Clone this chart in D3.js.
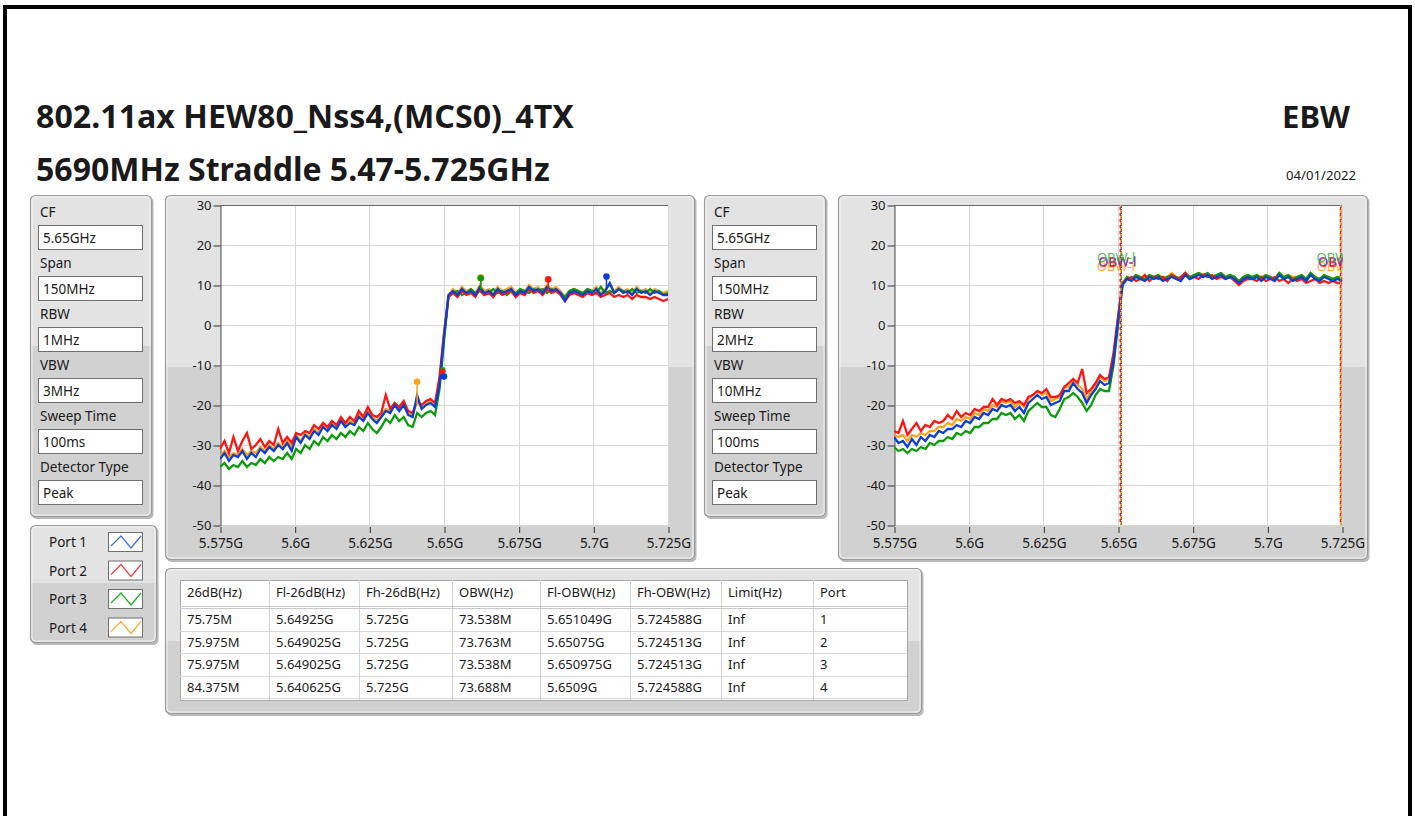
<!DOCTYPE html>
<html><head><meta charset="utf-8">
<script src="https://cdn.jsdelivr.net/npm/d3@7"></script>
<style>
html,body{margin:0;padding:0;background:#fff;}
svg{display:block;}
text{font-family:"Noto Sans",sans-serif;fill:#1a1a1a;}
</style></head><body>
<svg id="c" width="1415" height="816"></svg>
<script>
// ---------------- DATA ----------------
const titleLine1 = "802.11ax HEW80_Nss4,(MCS0)_4TX";
const titleLine2 = "5690MHz Straddle 5.47-5.725GHz";
const testName = "EBW";
const testDate = "04/01/2022";

const settingLabels = ["CF", "Span", "RBW", "VBW", "Sweep Time", "Detector Type"];
const settingsLeft  = ["5.65GHz", "150MHz", "1MHz", "3MHz", "100ms", "Peak"];
const settingsRight = ["5.65GHz", "150MHz", "2MHz", "10MHz", "100ms", "Peak"];

const ports = ["Port 1", "Port 2", "Port 3", "Port 4"];
const portColors = ["#0a3ed4", "#ff1414", "#0a9a0a", "#ffa31a"];
const legendColors = ["#3d6fe6", "#ff3c3c", "#22a822", "#ffaa33"];

const xTickValues = [5.575, 5.6, 5.625, 5.65, 5.675, 5.7, 5.725];
const xTickLabels = ["5.575G", "5.6G", "5.625G", "5.65G", "5.675G", "5.7G", "5.725G"];
const yTickValues = [-50, -40, -30, -20, -10, 0, 10, 20, 30];

// sweep grid: start frequency (GHz) and step (GHz) of the trace points
const sweepStartGHz = 5.575;
const sweepStepGHz = 0.0015;

// Chart 1 (RBW 1MHz) traces, dBm, per port
const c1Port1 = [
 -33.5,-32,-34,-32.5,-33,-31.5,-33.5,-32,-33,-31,
 -32,-30.5,-31.5,-30,-31,-29.5,-31.5,-28,-29.5,-27.5,
 -28.5,-26.5,-27.5,-25.5,-26.5,-25,-26,-24,-25.5,-24.5,
 -25,-23,-24,-22,-23.5,-24.5,-23,-21.5,-22,-20,
 -21.5,-20,-22.5,-23,-17.5,-21,-20,-19.5,-20.5,-15,
 -3,7.5,8.5,7.5,9,8,8.5,7.5,9.5,8,
 8.5,7.5,9,8,8.5,9,7.5,8.5,8,9.5,
 8.5,9,8,9.5,8.5,9,8,6,8,8.5,
 8,7.5,8.5,8,9,7.5,8.5,10.5,8,9,
 8,8.5,7.5,9,8,8.5,7.5,8.5,8,7.5,
 7.5];
const c1Port2 = [
 -31,-29,-32,-28,-31.5,-29,-27,-31,-30,-28.5,
 -30.5,-29,-30,-26,-29.5,-28,-29.5,-27,-27.5,-26.5,
 -27,-25,-26,-24.5,-25.5,-24,-25,-23,-24.5,-23,
 -24,-21.5,-23,-20.5,-22.5,-23,-22,-17.5,-21,-19.5,
 -20.5,-19,-21.5,-22,-19,-20,-19,-18.5,-19.5,-13,
 -2,7,8,7,8.5,7.5,8,7,9,7.5,
 8,7,8.5,7.5,8,8.5,7,8,7.5,9,
 8,8.5,7.5,9,8,8.5,7.5,6,7.5,8,
 7.5,7,8,7.5,8,7,7.5,8,7,7.5,
 7,7.5,6.5,7.5,7,7,6.5,7,6.5,6,
 6.5];
const c1Port3 = [
 -35.5,-34.5,-36,-35,-35.5,-34,-35.5,-34.5,-35,-33.5,
 -34.5,-33,-34,-33,-33.5,-32,-33.5,-31,-32,-30,
 -31,-29,-30,-28,-29,-27.5,-28.5,-27,-28,-26.5,
 -27.5,-25.5,-26.5,-24.5,-26,-27,-25.5,-23.5,-24.5,-22.5,
 -24,-23,-25,-25.5,-22,-23,-22,-21.5,-22.5,-16,
 -4,7,8,8.5,7.5,8,9,8,8.5,7.5,
 8,9,8,8.5,7.5,8.5,8,9,8.5,8,
 9,8.5,9,8,9,8.5,8,7,8.5,9,
 8.5,8,9,8.5,8,9.5,8,8.5,8,9,
 8.5,8,9,8,8.5,8,9,8,8.5,7.5,
 8];
const c1Port4 = [
 -33,-31.5,-33,-32,-32.5,-31,-32.5,-31.5,-32,-30.5,
 -31.5,-30,-31,-29.5,-30.5,-29,-30.5,-27.5,-29,-27,
 -28,-26,-27,-25,-26,-24.5,-25.5,-23.5,-25,-24,
 -24.5,-22.5,-23.5,-21.5,-23,-24,-22.5,-21,-21.5,-19.5,
 -21,-19.5,-22,-22.5,-19,-20.5,-19.5,-19,-20,-14,
 -2.5,7.5,9,8,9.5,8.5,9,8,10,8.5,
 9,8,9.5,8.5,9,9.5,8,9,8.5,10,
 9,9.5,8.5,10,9,9.5,8.5,7,8.5,9,
 8.5,8,9,8.5,9.5,8,9,10,8.5,9.5,
 8.5,9,8,9.5,8.5,9,8,9,8.5,8,
 8.5];

// Chart 2 (RBW 2MHz) traces
const c2Port1 = [
 -28,-29.5,-29,-30.5,-28.5,-30,-28,-29,-27.5,-28,
 -26.5,-27,-26,-26,-25,-25.5,-24,-24.5,-23,-23.5,
 -22,-22.5,-21,-21.5,-20,-20.5,-20,-21.5,-20.5,-22,
 -19.5,-18.5,-17.5,-18.5,-18,-20,-19.5,-19,-16.5,-16.5,
 -14.5,-16,-17,-19.5,-17.5,-16,-14,-15,-14.5,-9,
 1,10,11.5,11,12,11.5,11,12,11.5,12,
 11,11.5,12,11.5,11,12.5,11.5,12,12.5,12,
 12.5,11.5,12,12.5,11.5,12,11.5,10.5,11.5,12,
 11.5,12,11,12,11.5,11,12.5,11.5,12,11,
 11.5,12,11,12.5,11.5,11,12,11.5,11,11.5,
 11];
const c2Port2 = [
 -26.5,-27,-24,-27.5,-26,-24.5,-26.5,-25,-25.5,-24,
 -24.5,-24,-22.5,-23.5,-21.5,-23,-22,-22.5,-21,-21.5,
 -20.5,-20.5,-18.5,-20,-18.5,-19,-18.5,-19.5,-19,-20,
 -18,-17.5,-16.5,-17,-16,-18,-18,-17.5,-15.5,-14.5,
 -13.5,-14.5,-11,-17,-16,-14.5,-12.5,-13.5,-13,-7,
 2,10.5,11.5,12,11,11.5,12.5,11,12,11.5,
 12,11,12.5,11.5,12,13,11.5,12,11.5,12.5,
 12,12.5,11.5,12,11.5,12,11,10,11,11.5,
 11.5,11,12,11,11.5,12,11,11.5,10.5,11.5,
 11,11.5,10.5,11,11.5,10.5,11,10.5,11,10.5,
 10.5];
const c2Port3 = [
 -30.5,-31.5,-31,-32,-31,-31.5,-30.5,-31,-29.5,-30,
 -29,-29,-28,-28.5,-27,-27.5,-26.5,-27,-25.5,-25.5,
 -24.5,-24.5,-23.5,-23.5,-22,-22.5,-22,-23.5,-22.5,-24,
 -21.5,-20.5,-19.5,-20.5,-20.5,-22.5,-23,-21,-18.5,-18,
 -17,-18,-19.5,-21.5,-20,-17.5,-16,-16.5,-16.5,-10,
 0,10,12,11.5,12.5,12,11.5,12.5,12,12.5,
 11.5,12,12.5,12,11.5,13,12,12.5,13,12.5,
 13,12,12.5,13,12,12.5,12,11,12,12.5,
 12,12.5,11.5,12.5,12,11.5,13,12,12.5,11.5,
 12,12.5,11.5,13,12,11.5,12.5,12,11.5,12,
 11.5];
const c2Port4 = [
 -27.5,-28,-27.5,-29,-27.5,-28,-27,-27.5,-26.5,-26.5,
 -25.5,-25.5,-24.5,-25,-23.5,-24,-23,-23.5,-22,-22.5,
 -21,-21.5,-20,-20.5,-19,-19.5,-19,-20.5,-19.5,-20.5,
 -18.5,-17.5,-16.5,-17.5,-17,-19,-18.5,-18,-15.5,-15.5,
 -13.5,-15,-16,-18.5,-16.5,-15,-13,-14,-13.5,-8,
 1.5,10.5,12,11.5,12.5,12,11.5,12.5,12,12.5,
 12,12,13,12,11.5,13,12,12.5,13,12.5,
 12.5,12,12.5,13,12,12.5,12,11,12,12.5,
 12,12.5,12,12.5,12,11.5,13,12,12.5,12,
 12,12.5,11.5,13,12,11.5,12.5,12,11.5,12,
 11.5];

// Chart 1 markers (peak and -26 dB points), per port index (0..3)
const peakMarkerPort = [3, 2, 1, 0];
const peakMarkerFreq = [5.6623, 5.6623, 5.6849, 5.7044];
const peakMarkerLevel = [11.9, 11.7, 11.4, 12.1];
const peakMarkerBase = [9, 9, 8.5, 9];
const lowMarkerPort = [3, 2, 1, 0];
const lowMarkerFreq = [5.6410, 5.6494, 5.6494, 5.6500];
const lowMarkerLevel = [-14.2, -11.3, -11.7, -12.9];
const lowMarkerBase = [-20, -11.3, -11.7, -12.9];

// Result table
const tableHeaders = ["26dB(Hz)", "Fl-26dB(Hz)", "Fh-26dB(Hz)", "OBW(Hz)", "Fl-OBW(Hz)", "Fh-OBW(Hz)", "Limit(Hz)", "Port"];
const bw26 = ["75.75M", "75.975M", "75.975M", "84.375M"];
const fl26 = ["5.64925G", "5.649025G", "5.649025G", "5.640625G"];
const fh26 = ["5.725G", "5.725G", "5.725G", "5.725G"];
const obwText = ["73.538M", "73.763M", "73.538M", "73.688M"];
const flObwText = ["5.651049G", "5.65075G", "5.650975G", "5.6509G"];
const fhObwText = ["5.724588G", "5.724513G", "5.724513G", "5.724588G"];
const limitText = ["Inf", "Inf", "Inf", "Inf"];
const portText = ["1", "2", "3", "4"];
// OBW cursor frequencies (GHz) per port
const obwLow = [5.651049, 5.65075, 5.650975, 5.6509];
const obwHigh = [5.724588, 5.724513, 5.724513, 5.724588];

// ---------------- DRAWING ----------------
const svg = d3.select("#c");
svg.append("rect").attr("width", 1415).attr("height", 816).attr("fill", "#fff");
svg.append("rect").attr("x", 5).attr("y", 7).attr("width", 1405).attr("height", 900)
  .attr("fill", "none").attr("stroke", "#000").attr("stroke-width", 4);

function fitText(t, w) {
  const L = t.node().getComputedTextLength();
  const fs = parseFloat(t.attr("font-size"));
  t.attr("font-size", (fs * w / L).toFixed(2));
}

const t1 = svg.append("text").attr("x", 36).attr("y", 128).attr("font-size", 28).attr("font-weight", "bold").attr("fill", "#000").text(titleLine1);
fitText(t1, 538);
const t2 = svg.append("text").attr("x", 36).attr("y", 181).attr("font-size", 28).attr("font-weight", "bold").attr("fill", "#000").text(titleLine2);
fitText(t2, 514);
const t3 = svg.append("text").attr("x", 1350).attr("y", 128).attr("font-size", 28).attr("font-weight", "bold").attr("text-anchor", "end").attr("fill", "#000").text(testName);
fitText(t3, 68);
const t4 = svg.append("text").attr("x", 1356).attr("y", 180).attr("font-size", 13).attr("text-anchor", "end").text(testDate);
fitText(t4, 70);

const LIGHT = "#e3e3e3", DARK = "#d1d1d1";
let clipId = 0;
function panel(x, y, w, h, split) {
  svg.append("rect").attr("x", x + 1.5).attr("y", y + 2).attr("width", w).attr("height", h)
    .attr("rx", 5).attr("fill", "#b9b9b9");
  const id = "pc" + (clipId++);
  svg.append("clipPath").attr("id", id).append("rect")
    .attr("x", x).attr("y", y).attr("width", w).attr("height", h).attr("rx", 5);
  const g = svg.append("g").attr("clip-path", `url(#${id})`);
  g.append("rect").attr("x", x).attr("y", y).attr("width", w).attr("height", h).attr("fill", LIGHT);
  g.append("rect").attr("x", x).attr("y", split).attr("width", w).attr("height", y + h - split).attr("fill", DARK);
  svg.append("rect").attr("x", x + 0.5).attr("y", y + 0.5).attr("width", w - 1).attr("height", h - 1)
    .attr("rx", 5).attr("fill", "none").attr("stroke", "#9c9c9c").attr("stroke-width", 1.2);
  svg.append("rect").attr("x", x + 2).attr("y", y + 2).attr("width", w - 4).attr("height", h - 4)
    .attr("rx", 3).attr("fill", "none").attr("stroke", "#f2f2f2").attr("stroke-width", 1);
}

function settingsPanel(x, values) {
  panel(x, 195, 122, 322, 346);
  settingLabels.forEach((lab, i) => {
    const cy = 212 + i * 51;
    svg.append("text").attr("x", x + 10).attr("y", cy + 5).attr("font-size", 13.5).text(lab);
    svg.append("rect").attr("x", x + 8.5).attr("y", cy + 13.5).attr("width", 104).attr("height", 24)
      .attr("fill", "#fff").attr("stroke", "#6f6f6f").attr("stroke-width", 1);
    svg.append("text").attr("x", x + 13).attr("y", cy + 31).attr("font-size", 13.5).text(values[i]);
  });
}
settingsPanel(30, settingsLeft);
settingsPanel(704, settingsRight);

function chart(px, plotX0, traces, opts) {
  panel(px, 195, 530, 365, 367);
  const x = d3.scaleLinear().domain([5.575, 5.725]).range([plotX0, plotX0 + 448]);
  const y = d3.scaleLinear().domain([-50, 30]).range([525, 205]);
  svg.append("rect").attr("x", plotX0).attr("y", 205).attr("width", 448).attr("height", 320).attr("fill", "#fff");
  const grid = svg.append("g").attr("stroke", "#d9d9d9").attr("stroke-width", 1);
  xTickValues.forEach(v => grid.append("line").attr("x1", Math.round(x(v)) + 0.5).attr("x2", Math.round(x(v)) + 0.5).attr("y1", 205).attr("y2", 525));
  yTickValues.forEach(v => grid.append("line").attr("x1", plotX0).attr("x2", plotX0 + 448).attr("y1", y(v) + 0.5).attr("y2", y(v) + 0.5));
  svg.append("line").attr("x1", plotX0).attr("x2", plotX0 + 448).attr("y1", 205.5).attr("y2", 205.5).attr("stroke", "#6a6a6a");
  const ya = svg.append("g").attr("transform", `translate(${plotX0 + 0.5},0.5)`)
    .call(d3.axisLeft(y).tickValues(yTickValues).tickSize(7).tickSizeOuter(0).tickPadding(2).tickFormat(d => String(d)));
  ya.select(".domain").attr("stroke", "#4a4a4a");
  ya.selectAll(".tick line").attr("stroke", "#333");
  ya.selectAll("text").attr("font-size", 13).attr("font-family", "Noto Sans").attr("fill", "#1a1a1a");
  const xa = svg.append("g").attr("transform", `translate(0.5,527)`)
    .call(d3.axisBottom(x).tickValues(xTickValues).tickSize(6).tickSizeOuter(0).tickPadding(5)
      .tickFormat((d, i) => xTickLabels[i]));
  xa.select(".domain").remove();
  xa.selectAll(".tick line").attr("stroke", "#333");
  xa.selectAll("text").attr("font-size", 13.5).attr("font-family", "Noto Sans").attr("fill", "#1a1a1a");

  const cid = "plotclip" + (clipId++);
  svg.append("clipPath").attr("id", cid).append("rect").attr("x", plotX0).attr("y", 205).attr("width", 449).attr("height", 320);
  const pg = svg.append("g").attr("clip-path", `url(#${cid})`);
  const line = d3.line().x((d, i) => x(sweepStartGHz + i * sweepStepGHz)).y(d => y(d));
  [3, 2, 1, 0].forEach(p => {
    pg.append("path").attr("d", line(traces[p])).attr("fill", "none")
      .attr("stroke", portColors[p]).attr("stroke-width", 2.3).attr("stroke-linejoin", "miter");
  });
  if (opts.markers) {
    const drawMarkers = (portsA, freqs, levels, bases) => {
      portsA.forEach((p, i) => {
        pg.append("line").attr("x1", x(freqs[i])).attr("x2", x(freqs[i]))
          .attr("y1", y(levels[i])).attr("y2", y(bases[i])).attr("stroke", portColors[p]).attr("stroke-width", 1.5);
        pg.append("circle").attr("cx", x(freqs[i])).attr("cy", y(levels[i])).attr("r", 3.3).attr("fill", portColors[p]);
      });
    };
    drawMarkers(peakMarkerPort, peakMarkerFreq, peakMarkerLevel, peakMarkerBase);
    drawMarkers(lowMarkerPort, lowMarkerFreq, lowMarkerLevel, lowMarkerBase);
  }
  if (opts.cursors) {
    const labelDy = [266, 267, 262, 271];
    const labelDx = [-23, -22, -24, -24];
    const dashOff = [0, 4, 2, 1];
    const labelColors = ["#3a3ad0", "#ff2020", "#33a833", "#ffa31a"];
    [2, 0, 3, 1].forEach(p => {
      [obwLow[p], obwHigh[p]].forEach(f => {
        pg.append("line").attr("x1", x(f)).attr("x2", x(f)).attr("y1", 205).attr("y2", 525)
          .attr("stroke", portColors[p]).attr("stroke-width", 1.5)
          .attr("stroke-dasharray", "3,3").attr("stroke-dashoffset", dashOff[p]);
      });
    });
    [3, 1, 0, 2].forEach(p => {
      pg.append("text").attr("x", x(obwLow[p]) + labelDx[p]).attr("y", labelDy[p]).attr("font-size", 13)
        .style("fill", labelColors[p]).attr("fill-opacity", 0.85).text("OBW-l");
      pg.append("text").attr("x", x(obwHigh[p]) + labelDx[p]).attr("y", labelDy[p]).attr("font-size", 13)
        .style("fill", labelColors[p]).attr("fill-opacity", 0.85).text("OBW-h");
    });
  }
}
chart(165, 220, [c1Port1, c1Port2, c1Port3, c1Port4], {markers: true});
chart(838, 894, [c2Port1, c2Port2, c2Port3, c2Port4], {cursors: true});

// Legend
panel(30, 525, 127, 118, 583);
ports.forEach((name, i) => {
  const cy = 542 + i * 28.5;
  svg.append("text").attr("x", 49).attr("y", cy + 5).attr("font-size", 13.5).text(name);
  svg.append("rect").attr("x", 108.5).attr("y", cy - 9.5).attr("width", 34).attr("height", 19)
    .attr("fill", "#fff").attr("stroke", "#6f6f6f");
  const pts = [[111, cy + 4], [121, cy - 6], [131, cy + 6], [141, cy - 6]];
  svg.append("path").attr("d", d3.line()(pts)).attr("fill", "none").attr("stroke", legendColors[i]).attr("stroke-width", 1.2);
});

// Table
panel(165, 568, 757, 146, 641);
const tx0 = 180, tx1 = 907, ty0 = 580, ty1 = 700;
svg.append("rect").attr("x", tx0 + 0.5).attr("y", ty0 + 0.5).attr("width", tx1 - tx0).attr("height", ty1 - ty0)
  .attr("fill", "#fff").attr("stroke", "#a8a8a8");
const colX = [180, 269, 359, 452, 540, 630, 721, 813];
colX.slice(1).forEach(cx => svg.append("line").attr("x1", cx + 0.5).attr("x2", cx + 0.5).attr("y1", ty0).attr("y2", ty1).attr("stroke", "#d4d4d4"));
[606, 608].forEach(yy => svg.append("line").attr("x1", tx0).attr("x2", tx1).attr("y1", yy + 0.5).attr("y2", yy + 0.5).attr("stroke", "#c8c8c8"));
[631, 653, 676, 698].forEach(yy => svg.append("line").attr("x1", tx0).attr("x2", tx1).attr("y1", yy + 0.5).attr("y2", yy + 0.5).attr("stroke", "#d8d8d8"));
tableHeaders.forEach((h, j) => svg.append("text").attr("x", colX[j] + 7).attr("y", 597).attr("font-size", 13).text(h));
const cols = [bw26, fl26, fh26, obwText, flObwText, fhObwText, limitText, portText];
for (let r = 0; r < 4; r++) {
  cols.forEach((col, j) => svg.append("text").attr("x", colX[j] + 7).attr("y", 624 + r * 22.6).attr("font-size", 13).text(col[r]));
}
</script>
</body></html>
